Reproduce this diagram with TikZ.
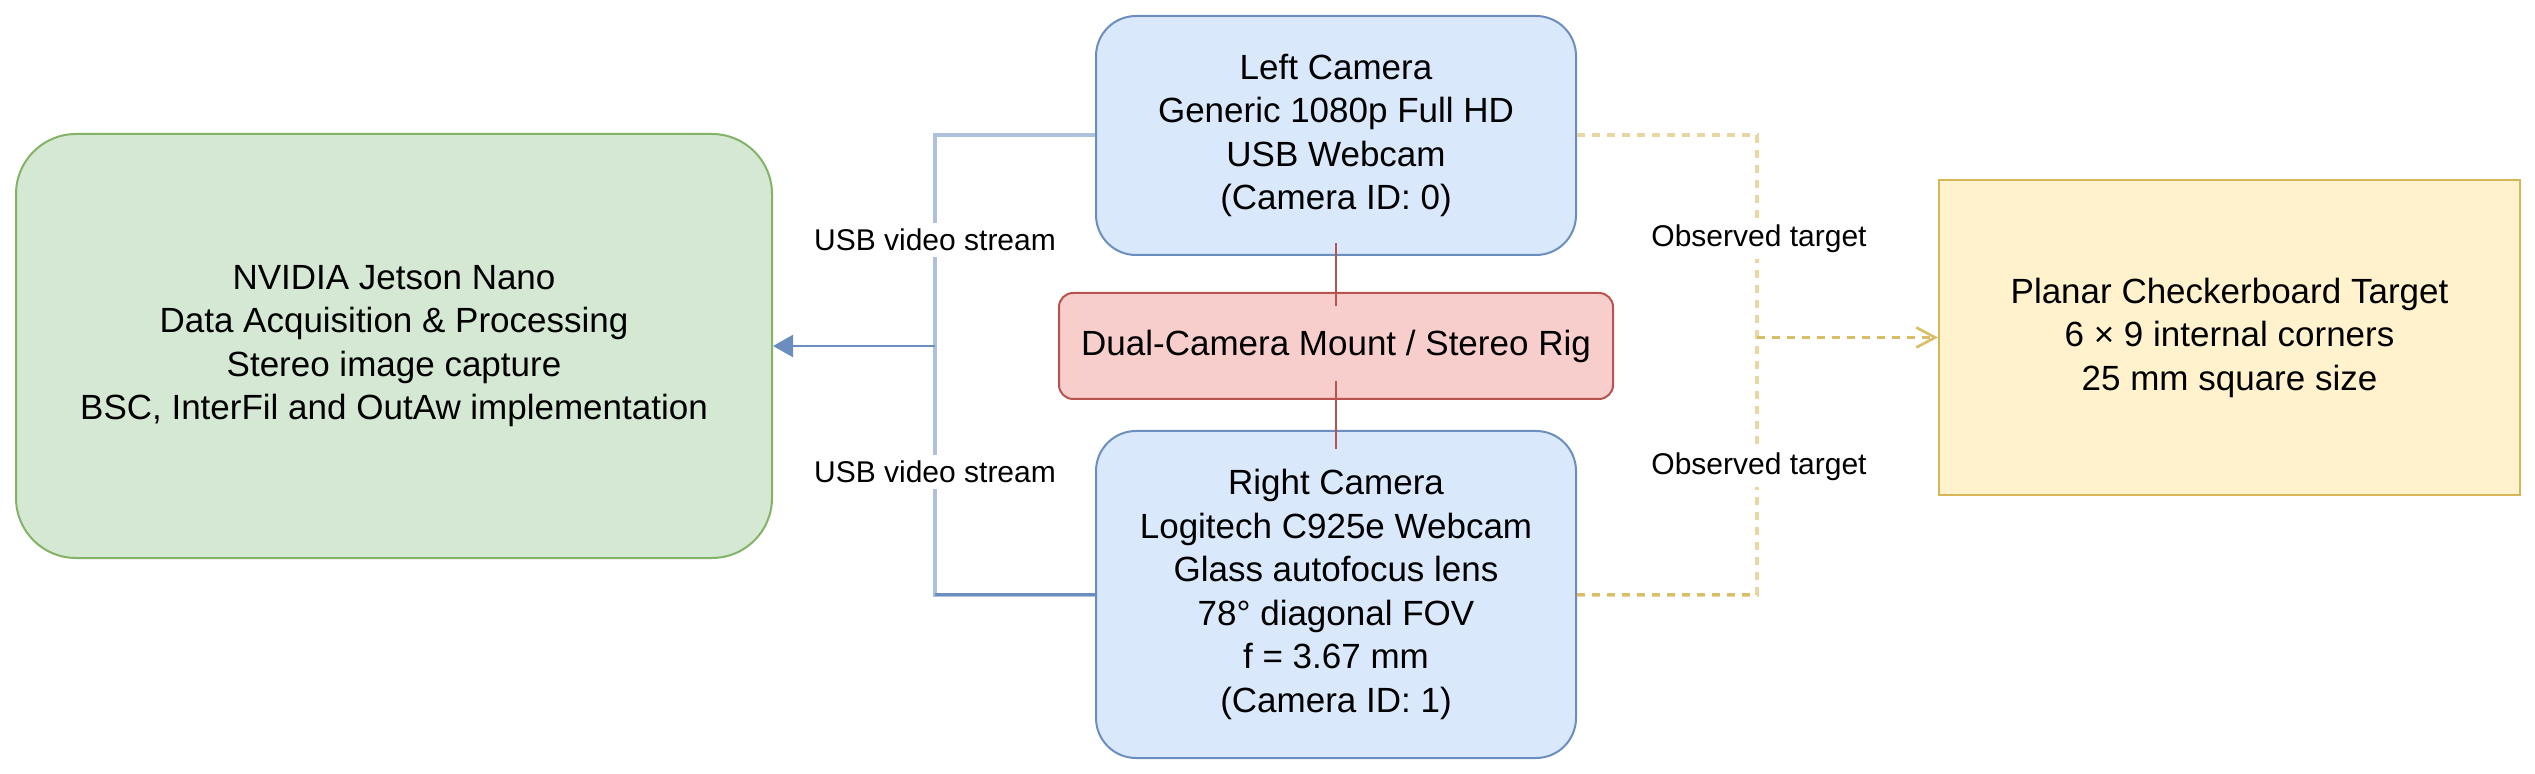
\documentclass[tikz,border=0pt]{standalone}
\usepackage{fontspec}
\setmainfont{Liberation Sans}
\usetikzlibrary{arrows.meta}
\definecolor{gfill}{HTML}{D5E8D4}\definecolor{gline}{HTML}{82B366}
\definecolor{bfill}{HTML}{DAE8FC}\definecolor{bline}{HTML}{6C8EBF}
\definecolor{rfill}{HTML}{F8CECC}\definecolor{rline}{HTML}{B85450}
\definecolor{yfill}{HTML}{FFF2CC}\definecolor{yline}{HTML}{D6B656}
\begin{document}
\begin{tikzpicture}[x=0.5pt,y=-0.5pt,
  box/.style={draw, line width=1pt, align=center, inner sep=0pt, font=\fontsize{17.5}{21.75}\selectfont},
  lbl/.style={fill=white, inner xsep=1pt, inner ysep=3pt, font=\fontsize{15}{18}\selectfont},
  usbl/.style={draw=bline!55, line width=2pt},
  usbd/.style={draw=bline, line width=1.2pt},
  obsl/.style={draw=yline!55, line width=2pt, dash pattern=on 4pt off 3.5pt},
  obsd/.style={draw=yline!90, line width=1.3pt, dash pattern=on 4pt off 3.5pt},
  rigline/.style={draw=rline, line width=0.75pt}]
\useasboundingbox (0,0) rectangle (2535,774);
% nodes
\node[box, fill=gfill, draw=gline, rounded corners=30pt, minimum width=378pt, minimum height=212pt] (jetson) at (394,346)
  {NVIDIA Jetson Nano\\Data Acquisition \& Processing\\Stereo image capture\\BSC, InterFil and OutAw implementation};
\node[box, fill=bfill, draw=bline, rounded corners=20pt, minimum width=240pt, minimum height=119.5pt] (lcam) at (1336,135.5)
  {Left Camera\\Generic 1080p Full HD\\USB Webcam\\(Camera ID: 0)};
\node[box, fill=rfill, draw=rline, rounded corners=7pt, minimum width=277pt, minimum height=53pt] (rig) at (1336,346)
  {Dual-Camera Mount / Stereo Rig};
\node[box, fill=bfill, draw=bline, rounded corners=20pt, minimum width=240pt, minimum height=163.5pt] (rcam) at (1336,594.5)
  {Right Camera\\Logitech C925e Webcam\\Glass autofocus lens\\78° diagonal FOV\\f = 3.67 mm\\(Camera ID: 1)};
\node[box, fill=yfill, draw=yline, minimum width=290.5pt, minimum height=157.5pt] (target) at (2229.5,337.5)
  {Planar Checkerboard Target\\6 × 9 internal corners\\25 mm square size};
% junctions
\coordinate (j) at (935,346);
\coordinate (k) at (1757,337.5);
% rig lines
\draw[rigline, shorten <=-6.5pt, shorten >=-7pt] (lcam.south) -- (rig.north);
\draw[rigline, shorten <=-9.5pt, shorten >=-9.5pt] (rig.south) -- (rcam.north);
% USB connectors
\draw[usbl] (lcam.west) -| (j);
\draw[usbl] (rcam.west) -| (j);
\draw[usbd] (rcam.west) -- (rcam.west -| j);
\draw[usbd, -{Triangle[length=10pt,width=11pt]}] (j) -- (jetson.east);
\node[lbl] (usb1) at (935,240) {USB video stream};
\node[lbl] (usb2) at (935,472) {USB video stream};
% observed target connectors
\draw[obsl] (lcam.east) -| (k);
\draw[obsl] (rcam.east) -| (k);
\draw[obsd] (rcam.east) -- (rcam.east -| k);
\draw[obsd, -{Straight Barb[length=9.5pt,width=10pt,line width=1.3pt]}] (k) -- (target.west);
\node[lbl] (obs1) at (1759,239) {Observed target};
\node[lbl] (obs2) at (1759,467) {Observed target};
\end{tikzpicture}
\end{document}
